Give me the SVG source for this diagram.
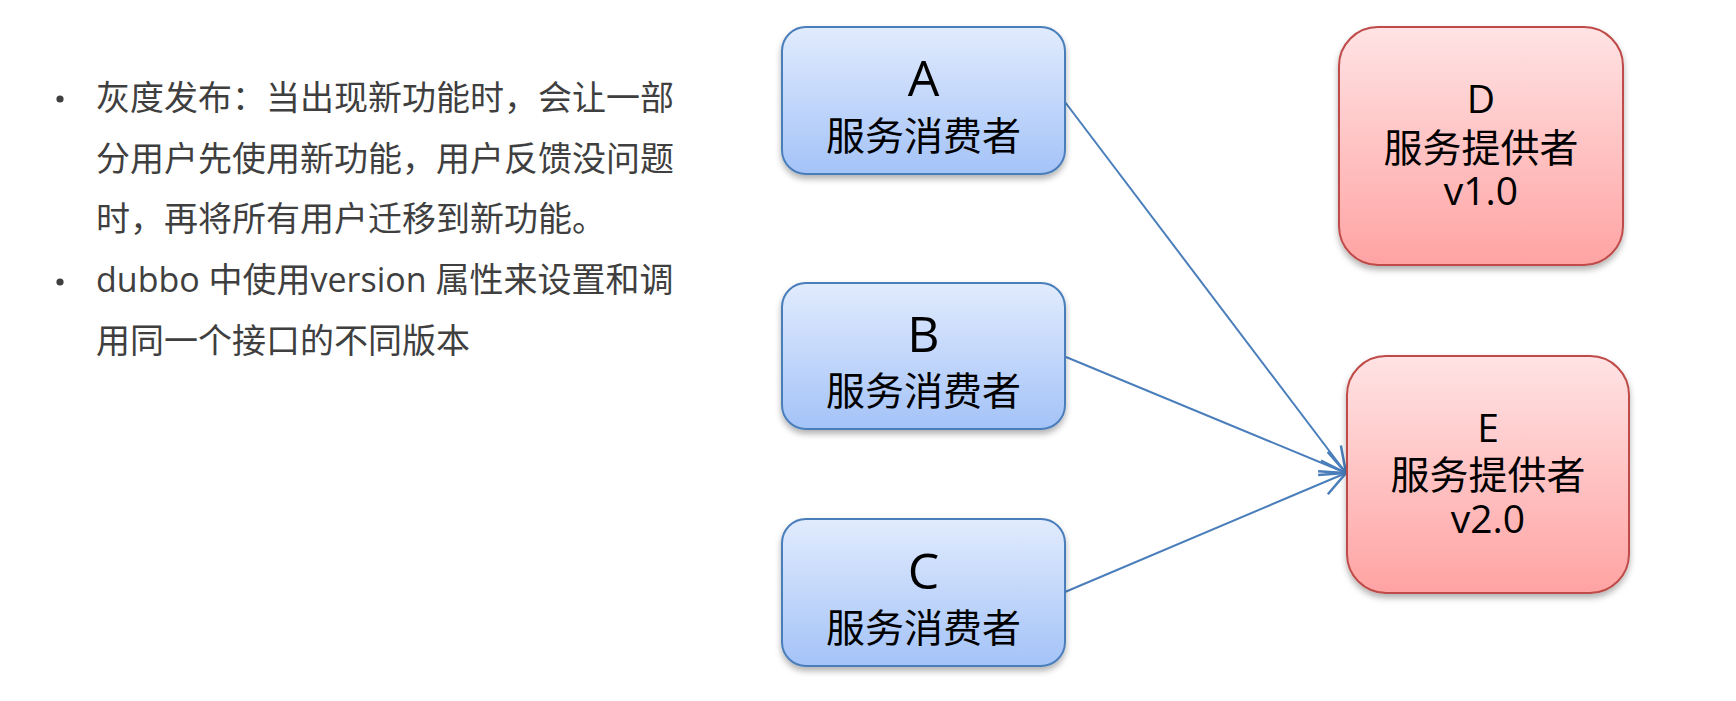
<svg xmlns="http://www.w3.org/2000/svg" width="1736" height="701" viewBox="0 0 1736 701">
<defs>
<linearGradient id="gBlue" x1="0" y1="0" x2="0" y2="1">
<stop offset="0" stop-color="#e1ebfd"/>
<stop offset="1" stop-color="#a4c3f8"/>
</linearGradient>
<linearGradient id="gRed" x1="0" y1="0" x2="0" y2="1">
<stop offset="0" stop-color="#ffe3e4"/>
<stop offset="1" stop-color="#ffa3a3"/>
</linearGradient>
<filter id="shadow" x="-10%" y="-10%" width="120%" height="130%">
<feDropShadow dx="0" dy="4" stdDeviation="3" flood-color="#000" flood-opacity="0.3"/>
</filter>
<marker id="arrow" markerUnits="userSpaceOnUse" markerWidth="30" markerHeight="30" viewBox="-22 -12 24 24" refX="0" refY="0" orient="auto">
<path d="M -20 -10 L 0 0 L -20 10" fill="none" stroke="#4a7ebb" stroke-width="2"/>
</marker>
<style>
.consumer{fill:url(#gBlue);stroke:#4a7ebb;stroke-width:2;filter:url(#shadow)}
.provider{fill:url(#gRed);stroke:#be4b48;stroke-width:2;filter:url(#shadow)}
.lbl{font-family:"Open Sans","Noto Sans CJK SC",sans-serif;fill:#000;text-anchor:middle}
.big{font-size:50px}
.mid{font-size:39px}
.body{font-family:"Open Sans","Noto Sans CJK SC",sans-serif;font-size:34px;fill:#3f3f3f}
.conn{stroke:#4a7ebb;stroke-width:2;fill:none;marker-end:url(#arrow)}
</style>
</defs>
<rect width="1736" height="701" fill="#fff"/>

<g id="bullets">
<circle cx="60" cy="99" r="3.6" fill="#3f3f3f"/>
<text class="body" x="96" y="110">灰度发布：当出现新功能时，会让一部</text>
<text class="body" x="96" y="171">分用户先使用新功能，用户反馈没问题</text>
<text class="body" x="96" y="231">时，再将所有用户迁移到新功能。</text>
<circle cx="60" cy="282" r="3.6" fill="#3f3f3f"/>
<text class="body" x="96" y="292">dubbo 中使用version 属性来设置和调</text>
<text class="body" x="96" y="353">用同一个接口的不同版本</text>
</g>

<g id="connectors">
<line class="conn" x1="1065" y1="102" x2="1346" y2="473"/>
<line class="conn" x1="1066" y1="357" x2="1346" y2="473"/>
<line class="conn" x1="1065" y1="592" x2="1346" y2="473"/>
</g>

<g id="nodeA">
<rect class="consumer" x="782" y="27" width="283" height="147" rx="24"/>
<text class="lbl big" x="923.5" y="96">A</text>
<text class="lbl mid" x="923.5" y="150">服务消费者</text>
</g>
<g id="nodeB">
<rect class="consumer" x="782" y="283" width="283" height="146" rx="24"/>
<text class="lbl big" x="923.5" y="352">B</text>
<text class="lbl mid" x="923.5" y="405">服务消费者</text>
</g>
<g id="nodeC">
<rect class="consumer" x="782" y="519" width="283" height="147" rx="24"/>
<text class="lbl big" x="923.5" y="589">C</text>
<text class="lbl mid" x="923.5" y="642">服务消费者</text>
</g>
<g id="nodeD">
<rect class="provider" x="1339" y="27" width="284" height="238" rx="39"/>
<text class="lbl mid" x="1481" y="113">D</text>
<text class="lbl mid" x="1481" y="162">服务提供者</text>
<text class="lbl mid" x="1481" y="205">v1.0</text>
</g>
<g id="nodeE">
<rect class="provider" x="1347" y="356" width="282" height="237" rx="39"/>
<text class="lbl mid" x="1488" y="442">E</text>
<text class="lbl mid" x="1488" y="489">服务提供者</text>
<text class="lbl mid" x="1488" y="533">v2.0</text>
</g>
</svg>
